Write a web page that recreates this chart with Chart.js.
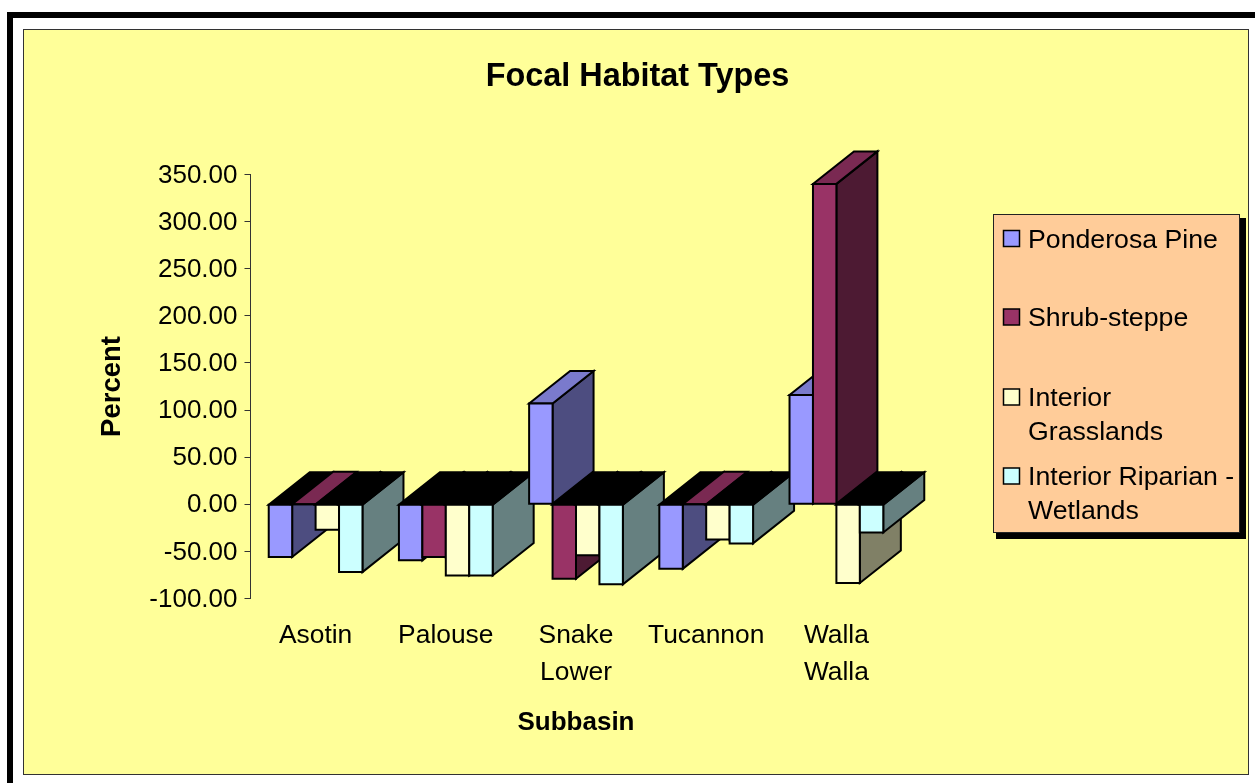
<!DOCTYPE html>
<html>
<head>
<meta charset="utf-8">
<title>Focal Habitat Types</title>
<script src="https://cdn.jsdelivr.net/npm/chart.js@4/dist/chart.umd.min.js"></script>
<style>
html, body { margin: 0; padding: 0; background: #fff; overflow: hidden; }
#frame { position: absolute; left: 7px; top: 12px; width: 1248px; height: 771px; box-sizing: border-box;
         border-left: 6px solid #000; border-top: 6px solid #000; }
#panel { position: absolute; left: 23px; top: 29px; width: 1226px; height: 746px; box-sizing: border-box;
         background: #ffff99; border: 1.5px solid #333; }
canvas { position: absolute; left: 0; top: 0; }
</style>
</head>
<body>
<div id="frame"></div>
<div id="panel"></div>
<canvas id="habitatChart" width="1255" height="783"></canvas>
<script>
const subbasins = [['Asotin'], ['Palouse'], ['Snake', 'Lower'], ['Tucannon'], ['Walla', 'Walla']];
const tickValues = [350, 300, 250, 200, 150, 100, 50, 0, -50, -100];

const ponderosaPine = [-56, -59.5, 107, -68.5, 116];
const shrubSteppe = [0, -56, -79, 0, 340];
const interiorGrasslands = [-27, -75.5, -54, -37.5, -83.5];
const interiorRiparian = [-72, -75.5, -85, -41.5, -30];

const seriesNames = ['Ponderosa Pine', 'Shrub-steppe', 'Interior Grasslands', 'Interior Riparian - Wetlands'];
const legendLines = [['Ponderosa Pine'], ['Shrub-steppe'], ['Interior', 'Grasslands'], ['Interior Riparian -', 'Wetlands']];
const frontColors = ['#9999ff', '#993366', '#ffffcc', '#ccffff'];
const sideColors = ['#4d4d80', '#4d1a33', '#808066', '#668080'];
const topColors = ['#7a7acc', '#7a2952', '#cccca3', '#a3cccc'];

const FONT = '"Liberation Sans", Arial, sans-serif';
const DEPTH_X = 41;
const DEPTH_Y = 32.5;

function face(ctx, pts, fill) {
    ctx.beginPath();
    pts.forEach((p, i) => i ? ctx.lineTo(p[0], p[1]) : ctx.moveTo(p[0], p[1]));
    ctx.closePath();
    ctx.fillStyle = fill;
    ctx.fill();
    ctx.stroke();
}

// --- Excel style 3D boxes, painted left to right on top of the library's bars ---

const depthBars = {
    id: 'depthBars',
    afterDatasetsDraw(chart) {
        const ctx = chart.ctx;
        ctx.save();
        ctx.strokeStyle = '#000';
        ctx.lineWidth = 2;
        ctx.lineJoin = 'miter';
        subbasins.forEach((_, c) => {
            chart.data.datasets.forEach((ds, s) => {
                const bar = chart.getDatasetMeta(s).data[c];
                const x1 = bar.x - bar.width / 2;
                const x2 = bar.x + bar.width / 2;
                const yv = bar.y;
                const y0 = bar.base;
                const top = Math.min(yv, y0);
                // right hand side
                face(ctx, [[x2, y0], [x2, yv], [x2 + DEPTH_X, yv - DEPTH_Y], [x2 + DEPTH_X, y0 - DEPTH_Y]], sideColors[s]);
                // lid: negative bars show a black lid at the zero line
                const lid = ds.data[c] < 0 ? '#000' : topColors[s];
                face(ctx, [[x1, top], [x2, top], [x2 + DEPTH_X, top - DEPTH_Y], [x1 + DEPTH_X, top - DEPTH_Y]], lid);
                // front
                face(ctx, [[x1, y0], [x2, y0], [x2, yv], [x1, yv]], frontColors[s]);
            });
        });
        ctx.restore();
    }
};

// --- Legend box with shadow and wrapped labels ---

const boxLegend = {
    id: 'boxLegend',
    afterDraw(chart) {
        const ctx = chart.ctx;
        const rowY = [238.5, 317, 397, 476];
        ctx.save();
        ctx.fillStyle = '#000';
        ctx.fillRect(996, 218, 250, 321);
        ctx.fillStyle = '#ffcc99';
        ctx.strokeStyle = '#222';
        ctx.lineWidth = 1;
        ctx.fillRect(993.5, 214.5, 246, 318);
        ctx.strokeRect(993.5, 214.5, 246, 318);
        ctx.font = '26.7px ' + FONT;
        ctx.textBaseline = 'middle';
        legendLines.forEach((lines, i) => {
            ctx.fillStyle = frontColors[i];
            ctx.strokeStyle = '#000';
            ctx.lineWidth = 1.5;
            ctx.fillRect(1003.5, rowY[i] - 8, 16, 16);
            ctx.strokeRect(1003.5, rowY[i] - 8, 16, 16);
            ctx.fillStyle = '#000';
            lines.forEach((t, j) => ctx.fillText(t, 1028, rowY[i] + 2 + j * 34));
        });
        ctx.restore();
    }
};

const seriesData = [ponderosaPine, shrubSteppe, interiorGrasslands, interiorRiparian];

new Chart(document.getElementById('habitatChart').getContext('2d'), {
    type: 'bar',
    data: {
        labels: subbasins,
        datasets: seriesNames.map((name, i) => ({
            label: name,
            data: seriesData[i],
            backgroundColor: frontColors[i],
            borderWidth: 0,
            categoryPercentage: 0.72,
            barPercentage: 1
        }))
    },
    options: {
        responsive: false,
        animation: false,
        layout: { padding: { left: 20, top: 0, right: 0, bottom: 0 } },
        scales: {
            x: {
                afterFit: (s) => { s.height = 184.5; },
                border: { display: false },
                grid: { display: false },
                ticks: {
                    color: '#000',
                    padding: 11,
                    maxRotation: 0,
                    autoSkip: false,
                    font: { family: FONT, size: 26.4, lineHeight: 1.4 }
                },
                title: {
                    display: true,
                    text: 'Subbasin',
                    color: '#000',
                    padding: { bottom: 45, top: 0 },
                    font: { family: FONT, size: 26, weight: 'bold', lineHeight: 1.2 }
                }
            },
            y: {
                min: -100,
                max: 350,
                afterFit: (s) => { s.width = 230.5; },
                afterBuildTicks: (s) => { s.ticks = tickValues.map((v) => ({ value: v })); },
                border: { display: true, color: '#333', width: 1 },
                grid: { drawOnChartArea: false, drawTicks: true, tickLength: 6, tickColor: '#333' },
                ticks: {
                    color: '#000',
                    padding: 7,
                    labelOffset: 1,
                    callback: (v) => Number(v).toFixed(2),
                    font: { family: FONT, size: 26 }
                },
                title: {
                    display: true,
                    text: 'Percent',
                    color: '#000',
                    padding: { top: 76, bottom: 0 },
                    font: { family: FONT, size: 27.5, weight: 'bold', lineHeight: 1.2 }
                }
            },
            // empty scale, keeps the space for the legend box free
            legendSpace: {
                position: 'right',
                display: true,
                afterFit: (s) => { s.width = 353.5; },
                border: { display: false },
                grid: { display: false },
                ticks: { display: false }
            }
        },
        plugins: {
            legend: { display: false },
            tooltip: { enabled: false },
            title: {
                display: true,
                text: 'Focal Habitat Types',
                color: '#000',
                padding: { top: 58, bottom: 77.6 },
                font: { family: FONT, size: 32.4, weight: 'bold', lineHeight: 1.2 }
            }
        }
    },
    plugins: [depthBars, boxLegend]
});
</script>
</body>
</html>
